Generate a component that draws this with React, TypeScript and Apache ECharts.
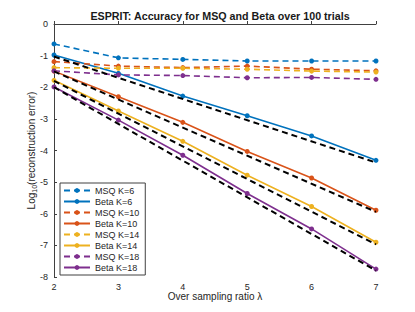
import React, { useEffect, useRef } from "react";
import * as echarts from "echarts";

const ratios = [2, 3, 4, 5, 6, 7];
const msqK6 = [-0.63, -1.07, -1.12, -1.17, -1.17, -1.17];
const betaK6 = [-0.98, -1.56, -2.28, -2.9, -3.54, -4.31];
const msqK10 = [-1.19, -1.33, -1.38, -1.33, -1.43, -1.48];
const betaK10 = [-1.49, -2.3, -3.11, -4.03, -4.87, -5.89];
const msqK14 = [-1.38, -1.4, -1.4, -1.43, -1.49, -1.52];
const betaK14 = [-1.78, -2.75, -3.71, -4.78, -5.77, -6.9];
const msqK18 = [-1.48, -1.61, -1.63, -1.7, -1.69, -1.75];
const betaK18 = [-1.99, -3.04, -4.15, -5.36, -6.48, -7.75];
// theoretical reference lines (endpoints at ratio 2 and 7)
const refX = [2, 7];
const refK6 = [-1.03, -4.38];
const refK10 = [-1.5, -5.94];
const refK14 = [-1.8, -6.97];
const refK18 = [-2.0, -7.8];

const colors = ["#0072BD", "#D95319", "#EDB120", "#7E2F8E"];
const names = [
  "MSQ K=6", "Beta K=6", "MSQ K=10", "Beta K=10",
  "MSQ K=14", "Beta K=14", "MSQ K=18", "Beta K=18",
];

export default function App() {
  const ref = useRef<HTMLDivElement>(null);
  useEffect(() => {
    const chart = echarts.init(ref.current!, null, { renderer: "svg" });
    const pairs = (ys: number[], xs: number[] = ratios) => xs.map((x, i) => [x, ys[i]]);
    const mk = (name: string, ys: number[], color: string, dashed: boolean) => ({
      name,
      type: "line",
      data: pairs(ys),
      symbol: "circle",
      symbolSize: 5,
      showSymbol: true,
      itemStyle: { color },
      lineStyle: { color, width: 1.6, type: dashed ? [6, 4] : "solid" },
      z: 2,
    });
    const refLine = (ys: number[], i: number) => ({
      name: "ref" + i,
      type: "line",
      data: pairs(ys, refX),
      symbol: "none",
      lineStyle: { color: "#000", width: 2, type: [6, 4] },
      z: 3,
    });
    const series = [
      mk(names[0], msqK6, colors[0], true),
      mk(names[1], betaK6, colors[0], false),
      mk(names[2], msqK10, colors[1], true),
      mk(names[3], betaK10, colors[1], false),
      mk(names[4], msqK14, colors[2], true),
      mk(names[5], betaK14, colors[2], false),
      mk(names[6], msqK18, colors[3], true),
      mk(names[7], betaK18, colors[3], false),
      refLine(refK6, 0),
      refLine(refK10, 1),
      refLine(refK14, 2),
      refLine(refK18, 3),
    ];
    const axisColor = "#404040";
    chart.setOption({
      animation: false,
      title: {
        text: "ESPRIT: Accuracy for MSQ and Beta over 100 trials",
        left: 215,
        textAlign: "center",
        top: 5,
        textStyle: { fontSize: 10.7, fontWeight: "bold", color: "#1a1a1a", fontFamily: "Liberation Sans" },
      },
      legend: {
        data: names,
        orient: "vertical",
        left: 60,
        top: 183,
        itemWidth: 26,
        itemHeight: 6,
        itemGap: 0,
        padding: [2, 6, 2, 3],
        borderColor: axisColor,
        borderWidth: 1,
        borderRadius: 0,
        backgroundColor: "#fff",
        textStyle: { fontSize: 9, lineHeight: 11, color: "#262626", fontFamily: "Liberation Sans" },
      },
      grid: { left: 54, right: 39, top: 24, bottom: 35, containLabel: false },
      xAxis: {
        type: "value",
        min: 2,
        max: 7,
        interval: 1,
        name: "Over sampling ratio λ",
        nameLocation: "middle",
        nameGap: 14,
        nameMoveOverlap: false,
        nameTextStyle: { fontSize: 10, color: "#262626", fontFamily: "Liberation Sans" },
        axisLine: { show: true, lineStyle: { color: axisColor } },
        axisTick: { show: true, inside: true, length: 3, lineStyle: { color: axisColor } },
        axisLabel: { fontSize: 9, color: "#262626", margin: 5, fontFamily: "Liberation Sans" },
        splitLine: { show: false },
      },
      yAxis: {
        type: "value",
        min: -8,
        max: 0,
        interval: 1,
        name: "{a|Log}{s|10}{a|(reconstruction error)}",
        nameLocation: "middle",
        nameGap: 16,
        nameMoveOverlap: false,
        nameRotate: 90,
        nameTextStyle: {
          color: "#262626",
          fontFamily: "Liberation Sans",
          rich: {
            a: { fontSize: 10, color: "#262626", fontFamily: "Liberation Sans" },
            s: { fontSize: 7, color: "#262626", verticalAlign: "bottom", padding: [6, 0, 0, 0], fontFamily: "Liberation Sans" },
          },
        },
        axisLine: { show: true, lineStyle: { color: axisColor } },
        axisTick: { show: true, inside: true, length: 3, lineStyle: { color: axisColor } },
        axisLabel: { fontSize: 9, color: "#262626", margin: 6, fontFamily: "Liberation Sans" },
        splitLine: { show: false },
      },
      series,
    });
    return () => chart.dispose();
  }, []);
  return <div ref={ref} style={{ width: 415, height: 312, position: "absolute", left: 0, top: 0 }} />;
}
